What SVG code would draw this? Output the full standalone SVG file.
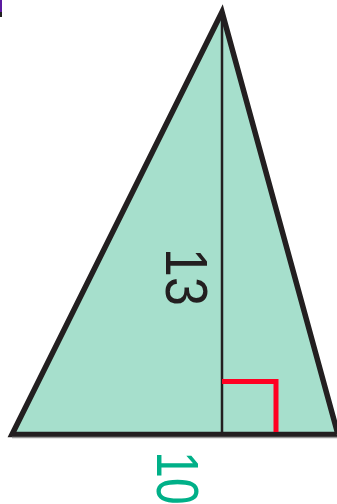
<svg xmlns="http://www.w3.org/2000/svg" width="337" height="504" viewBox="0 0 337 504">
<style>
.lbl{font-family:"Liberation Sans",Arial,sans-serif;text-anchor:middle}
</style>
<rect width="337" height="504" fill="#ffffff"/>
<rect x="0" y="0" width="2" height="12" fill="#5b1aa0"/>
<rect x="0" y="12" width="2" height="5" fill="#222"/>
<g id="triangle">
<polygon points="222,12 12,434.5 338,434.5" fill="#a6dfcc" stroke="#231f20" stroke-width="5.5" stroke-linejoin="miter"/>
<line x1="12" y1="437.5" x2="337" y2="437.5" stroke="#9a9a9a" stroke-width="1.5"/>
</g>
<g id="connectors">
<line x1="222" y1="14" x2="222" y2="433" stroke="#231f20" stroke-width="2.5"/>
<polyline points="222,381.5 276,381.5 276,432" fill="none" stroke="#ff0022" stroke-width="5"/>
</g>
<g id="label-13">
<text class="lbl" font-size="52" fill="#231f20" transform="translate(166,277) rotate(90) scale(1,1.15)">13</text>
</g>
<g id="label-10">
<text class="lbl" font-size="48" fill="#00b088" transform="translate(157,478) rotate(90) scale(1,1.22)">10</text>
</g>
</svg>
